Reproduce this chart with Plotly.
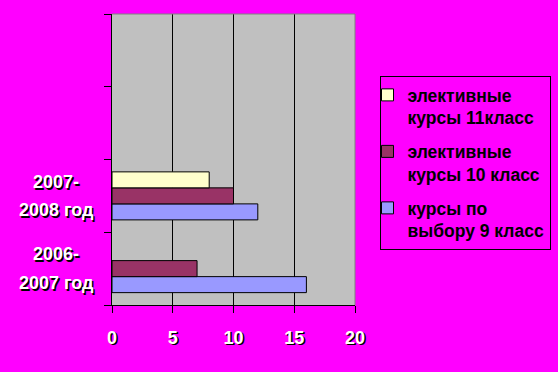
import plotly.graph_objects as go

# ---- data ----
cat_lines = [["2006-", "2007 год"], ["2007-", "2008 год"], [], []]
cat_pos = [0, 1, 2, 3]
series_names = ["курсы по<br>выбору 9 класс", "элективные<br>курсы 10 класс", "элективные<br>курсы 11класс"]
s9 = [16, 12, None, None]
s10 = [7, 10, None, None]
s11 = [None, 8, None, None]
series_vals = [s9, s10, s11]
series_colors = ["#9999FF", "#993366", "#FFFFCC"]
legend_ranks = [3, 2, 1]
x_ticks = [0, 5, 10, 15, 20]

FONT = "Arial, Liberation Sans, sans-serif"
SHADOW_W = "1.5px 1.5px 0px #000000"

fig = go.Figure()
for i, (name, vals, col, rk) in enumerate(zip(series_names, series_vals, series_colors, legend_ranks)):
    fig.add_trace(go.Bar(
        y=cat_pos, x=vals, name=name, orientation="h", legendgroup="g%d" % i,
        legendrank=rk,
        marker=dict(color=col, line=dict(color="black", width=1)),
    ))

annotations = []
for pos, lines in zip(cat_pos, cat_lines):
    n = len(lines)
    for i, ln in enumerate(lines):
        annotations.append(dict(
            xref="paper", yref="y", x=0, y=pos, xanchor="center", yanchor="middle",
            xshift=-56, yshift=((n - 1) / 2 - i) * 28.6,
            text=ln, showarrow=False,
            font=dict(family=FONT, size=18, color="white", weight="bold", shadow=SHADOW_W),
        ))

fig.update_layout(
    width=558, height=372,
    margin=dict(l=112, r=203, t=14, b=67),
    paper_bgcolor="#FF00FF", plot_bgcolor="#C0C0C0",
    barmode="group", bargap=0.34, bargroupgap=0,
    showlegend=True,
    legend=dict(
        xref="container", yref="container",
        x=379.5 / 558, y=1 - 76 / 372, xanchor="left", yanchor="top",
        bgcolor="#FF00FF", bordercolor="black", borderwidth=1,
        traceorder="grouped", valign="top", tracegroupgap=8,
        indentation=-13,
        font=dict(family=FONT, size=17.5, color="black", weight="bold"),
    ),
    xaxis=dict(
        range=[0, 20], tickmode="array", tickvals=x_ticks,
        showgrid=True, gridcolor="black", gridwidth=1, zeroline=False,
        showline=True, linecolor="black", linewidth=1,
        ticks="outside", ticklen=7, tickcolor="black", tickwidth=1,
        ticklabelstandoff=9,
        tickfont=dict(family=FONT, size=18, color="white", weight="bold", shadow=SHADOW_W),
    ),
    yaxis=dict(
        range=[-0.5, 3.5], tickmode="linear", tick0=-0.5, dtick=1,
        showticklabels=False, showgrid=False, zeroline=False,
        showline=True, linecolor="black", linewidth=1,
        ticks="outside", ticklen=7, tickcolor="black", tickwidth=1,
    ),
    annotations=annotations,
    shapes=[
        dict(type="line", xref="paper", yref="paper", x0=0, x1=1, y0=1, y1=1,
             line=dict(color="#808080", width=1)),
        dict(type="line", xref="paper", yref="paper", x0=1, x1=1, y0=0, y1=1,
             line=dict(color="#808080", width=1)),
    ],
)

fig.write_html(
    "out.html",
    config={"displayModeBar": False},
    post_script="document.body.style.margin='0';document.body.style.background='#FF00FF';",
)
